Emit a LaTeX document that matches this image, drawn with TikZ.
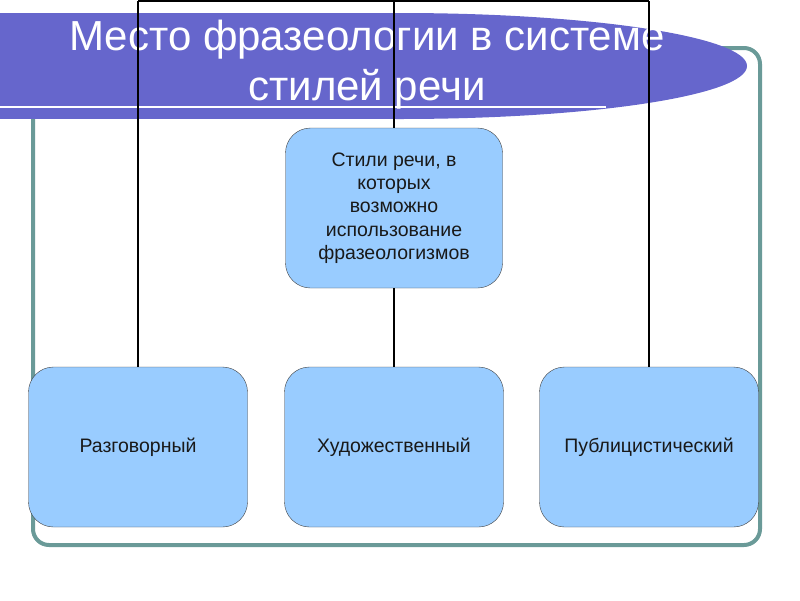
\documentclass[tikz,border=0pt]{standalone}
\usepackage{fontspec}
\setmainfont{Liberation Sans}
\definecolor{band}{HTML}{6666CC}
\definecolor{boxfill}{HTML}{99CCFF}
\definecolor{frame}{HTML}{6A9A98}

\begin{document}
\begin{tikzpicture}[x=1pt,y=-1pt]
  \tikzset{stylebox/.style = {shape=rectangle,draw=black!75,fill=boxfill,rounded corners=25pt,minimum width=219pt,minimum height=160pt,inner sep=2pt,align=center,text=black!90,font=\fontsize{19.5}{23.3}\selectfont}}
  \tikzset{link/.style = {draw=black,line width=1.5pt}}
  \tikzset{heading/.style = {text=white,anchor=base,inner sep=0pt,font=\fontsize{42}{50}\selectfont}}

  \useasboundingbox (0,0) rectangle (800,600);
  \draw[frame,line width=4pt,rounded corners=16pt] (33,48) rectangle (760,545);
  \fill[band] (-5,13) rectangle (400,119);
  \fill[band] (400,66) ellipse [x radius=347pt, y radius=53pt];
  \draw[white,line width=2.5pt] (-5,107) -- (606,107);
  \node[heading] (title1) at (367,50) {Место фразеологии в системе};
  \node[heading] (title2) at (367,100) {стилей речи};

  	\node[stylebox,minimum width=217pt] (R) at (394,208) {Стили речи, в\\которых\\возможно\\использование\\фразеологизмов};
	\node[stylebox] (A) at (138,447) {Разговорный};
	\node[stylebox] (B) at (394,447) {Художественный};
	\node[stylebox] (C) at (649,447) {Публицистический};

	\coordinate (topA) at (138,1);
	\coordinate (topR) at (394,1);
	\coordinate (topC) at (649,1);

       \foreach \from/\to in {R/topR, A/topA, C/topC, topA/topC, B/R}
    \path[link] (\from) -- (\to);

\end{tikzpicture}
\end{document}
